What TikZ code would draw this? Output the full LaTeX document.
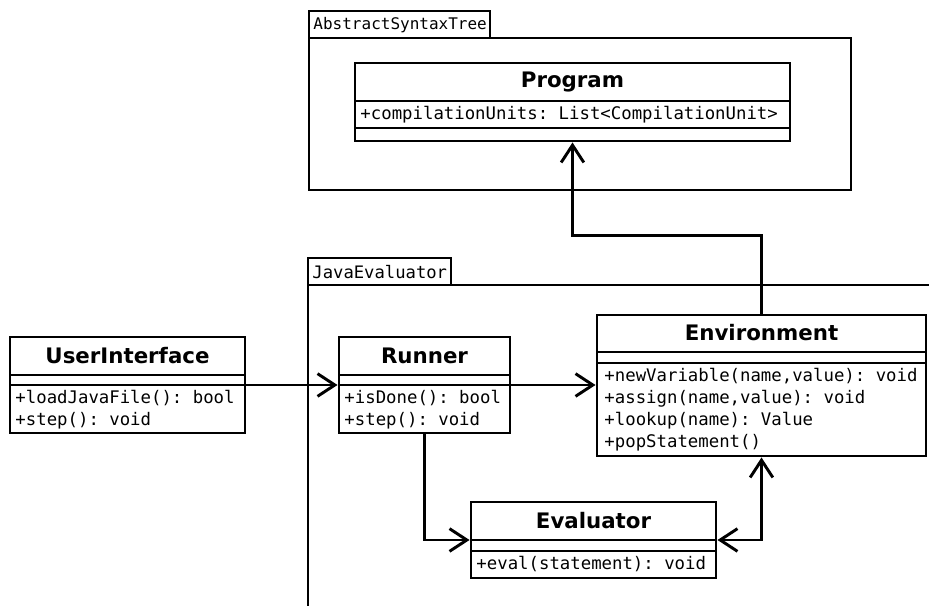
\documentclass[tikz,border=0pt]{standalone}
\usepackage{fontspec}
\setmainfont{DejaVu Sans}
\setmonofont{DejaVu Sans Mono}
\usetikzlibrary{arrows.meta,fit,positioning}

\tikzset{
  umlbox/.style={draw, line width=2.2pt, inner sep=0pt},
  cname/.style={font=\bfseries\fontsize{16}{19}\selectfont},
  member/.style={anchor=west, inner sep=0pt, text height=9.5pt, text depth=2.5pt,
    font=\ttfamily\fontsize{13}{16}\selectfont},
  pkgname/.style={anchor=west, inner sep=0pt, font=\ttfamily\fontsize{#1}{15}\selectfont},
  barb/.tip={Straight Barb[length=13pt,width=17pt]},
  assoc/.style={line width=2.2pt, -barb},
}

\begin{document}
\begin{tikzpicture}[x=0.75pt, y=-0.75pt, line width=2.2pt]
 \clip (0,0) rectangle (929,606);
 % packages
 \node[umlbox, fit={(309,11) (490,38)}] (asttab) {};
 \node[umlbox, fit={(309,38) (851,190)}] (ast) {};
 \node[pkgname=12] (astname) at (312,25) {AbstractSyntaxTree};
 \node[umlbox, fit={(308,258) (451,285)}] (jetab) {};
 \draw (308,620) -- (308,285) -- (940,285);
 \node[pkgname=12.9] (jename) at (311,272) {JavaEvaluator};
 % classes
 \node[umlbox, fill=white, fit={(355,63) (790,141)}] (prog) {};
 \draw (355,101) -- (790,101) (355,128) -- (790,128);
 \node[cname] (progname) at (572.5,82) {Program};
 \node[member] (progattr) at (359,115) {+compilationUnits: List<CompilationUnit>};

 \node[umlbox, fit={(10,337) (245,433)}] (ui) {};
 \draw (10,375) -- (245,375) (10,385) -- (245,385);
 \node[cname] (uiname) at (127.5,356) {UserInterface};
 \node[member] (uiop1) at (14,399) {+loadJavaFile(): bool};
 \node[member] (uiop2) at (14,421) {+step(): void};

 \node[umlbox, fit={(339,337) (510,433)}] (runner) {};
 \draw (339,375) -- (510,375) (339,385) -- (510,385);
 \node[cname] (runnername) at (424.5,356) {Runner};
 \node[member] (runop1) at (343,399) {+isDone(): bool};
 \node[member] (runop2) at (343,421) {+step(): void};

 \node[umlbox, fill=white, fit={(597,315) (926,456)}] (env) {};
 \draw (597,352) -- (926,352) (597,363) -- (926,363);
 \node[cname] (envname) at (761.5,333) {Environment};
 \node[member] (envop1) at (603,377) {+newVariable(name,value): void};
 \node[member] (envop2) at (603,399) {+assign(name,value): void};
 \node[member] (envop3) at (603,421) {+lookup(name): Value};
 \node[member] (envop4) at (603,443) {+popStatement()};

 \node[umlbox, fit={(471,502) (716,578)}] (eval) {};
 \draw (471,540) -- (716,540) (471,551) -- (716,551);
 \node[cname] (evalname) at (593.5,521) {Evaluator};
 \node[member] (evalop) at (475,565) {+eval(statement): void};

 % associations
 \draw[assoc] (ui.east) -- (ui.east -| runner.west);
 \draw[assoc] (runner.east) -- (runner.east -| env.west);
 \draw[assoc] (runner.south) |- (eval.west);
 \draw[assoc, barb-barb] (eval.east) -| (env.south);
 \draw[assoc] (env.north) -- ++(0,-78) -| (prog.south);
\end{tikzpicture}
\end{document}
